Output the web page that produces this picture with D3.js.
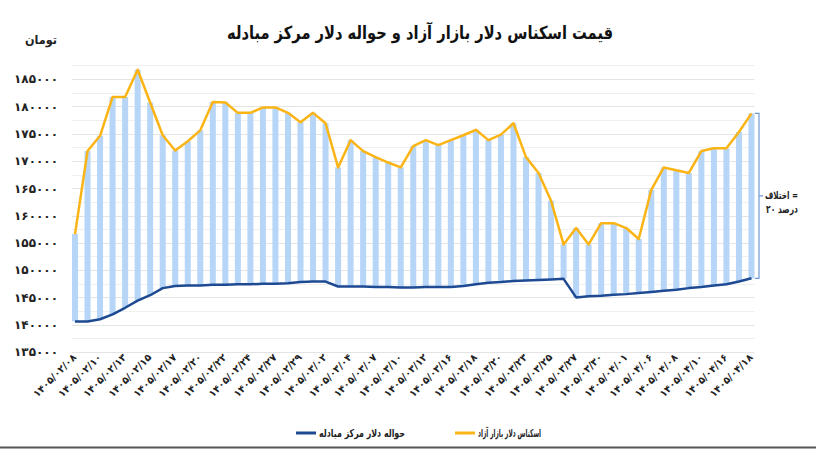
<!DOCTYPE html>
<meta charset="utf-8">
<style>
body { margin: 0; background: #fff; }
text { font-family: "DejaVu Sans", sans-serif; }
.grid line { stroke: #e4e4e4; stroke-width: 1px; }
.grid line.minor { stroke: #f0f0f0; }
.line { fill: none; stroke-linejoin: round; }
</style>
<svg width="816" height="450"></svg>
<script src="https://cdn.jsdelivr.net/npm/d3@7"></script>
<script>

// date labels shown under every second bar
var dateLabels = ["۱۴۰۵/۰۲/۰۸", "۱۴۰۵/۰۲/۱۰", "۱۴۰۵/۰۲/۱۳", "۱۴۰۵/۰۲/۱۵", "۱۴۰۵/۰۲/۱۷",
  "۱۴۰۵/۰۲/۲۰", "۱۴۰۵/۰۲/۲۲", "۱۴۰۵/۰۲/۲۴", "۱۴۰۵/۰۲/۲۷", "۱۴۰۵/۰۲/۲۹",
  "۱۴۰۵/۰۳/۰۲", "۱۴۰۵/۰۳/۰۴", "۱۴۰۵/۰۳/۰۷", "۱۴۰۵/۰۳/۱۰", "۱۴۰۵/۰۳/۱۲",
  "۱۴۰۵/۰۳/۱۶", "۱۴۰۵/۰۳/۱۸", "۱۴۰۵/۰۳/۲۰", "۱۴۰۵/۰۳/۲۳", "۱۴۰۵/۰۳/۲۵",
  "۱۴۰۵/۰۳/۲۷", "۱۴۰۵/۰۳/۳۰", "۱۴۰۵/۰۴/۰۱", "۱۴۰۵/۰۴/۰۶", "۱۴۰۵/۰۴/۰۸",
  "۱۴۰۵/۰۴/۱۰", "۱۴۰۵/۰۴/۱۶", "۱۴۰۵/۰۴/۱۸"];

// free market cash dollar (toman)
var freeMarket = [156600, 171800, 174600, 181700, 181700, 186700, 180700, 174700, 171900, 173600,
  175600, 180800, 180700, 178800, 178800, 179800, 179800, 178800, 177100, 178800,
  176900, 168800, 173800, 171800, 170700, 169700, 168800, 172700, 173800, 172900,
  173800, 174700, 175700, 173800, 174800, 176900, 170700, 167800, 162700, 154700,
  157700, 154700, 158600, 158600, 157700, 155700, 164700, 168800, 168300, 167800,
  171800, 172300, 172300, 175300, 178700];

// exchange center transfer dollar (toman)
var exchangeCenter = [140600, 140600, 141000, 141900, 143100, 144400, 145400, 146700, 147100, 147200,
  147200, 147300, 147300, 147400, 147400, 147500, 147500, 147600, 147800, 147900,
  147900, 147000, 147000, 147000, 146900, 146900, 146800, 146800, 146900, 146900,
  146900, 147100, 147400, 147700, 147800, 148000, 148100, 148200, 148300, 148400,
  145000, 145200, 145300, 145500, 145600, 145800, 146000, 146200, 146400, 146700,
  146900, 147200, 147400, 147900, 148500];

var yTicks = [135000, 140000, 145000, 150000, 155000, 160000, 165000, 170000, 175000, 180000, 185000];

var title = "قیمت اسکناس دلار بازار آزاد و حواله دلار مرکز مبادله",
    unitLabel = "تومان",
    legendFree = "اسکناس دلار بازار آزاد",
    legendCenter = "حواله دلار مرکز مبادله",
    gapLine1 = "\u200Eاختلاف =",
    gapLine2 = "\u200E۲۰ درصد";

var orange = "#fbb416", navy = "#1d4a92", barBlue = "#b6d5f7";

var svg = d3.select("svg");

var toFa = function(s) { return String(s).replace(/\d/g, function(c) { return "۰۱۲۳۴۵۶۷۸۹"[+c]; }); };

var data = freeMarket.map(function(v, i) {
  return {i: i, free: v, center: exchangeCenter[i], label: i % 2 === 0 ? dateLabels[i / 2] : null};
});

var xScale = d3.scaleBand().domain(data.map(function(d) { return d.i; })).range([72, 754.5]).paddingInner(0.52),
    yScale = d3.scaleLinear().domain([135000, 185000]).range([352, 79]);

var cx = function(d) { return xScale(d.i) + xScale.bandwidth() / 2; };

// grid lines, every 2500
var grid = svg.append("g").attr("class", "grid");
grid.selectAll("line")
  .data(d3.range(135000, 187501, 2500))
  .enter().append("line")
    .attr("class", function(d) { return d % 5000 ? "minor" : "major"; })
    .attr("x1", 72).attr("x2", 754.5)
    .attr("y1", function(d) { return Math.round(yScale(d)) + 0.5; })
    .attr("y2", function(d) { return Math.round(yScale(d)) + 0.5; });

// y axis labels
svg.append("g")
    .attr("transform", "translate(58,0)")
    .call(d3.axisLeft(yScale).tickValues(yTicks).tickSize(0).tickPadding(0).tickFormat(toFa))
    .call(function(g) { g.select(".domain").remove(); })
    .selectAll("text")
    .attr("font-family", "DejaVu Sans")
    .attr("font-weight", "bold")
    .attr("font-size", 12)
    .attr("fill", "#222");

svg.append("text")
    .attr("x", 57).attr("y", 44)
    .attr("text-anchor", "end")
    .attr("font-weight", "bold").attr("font-size", 12).attr("fill", "#222")
    .attr("textLength", 32).attr("lengthAdjust", "spacingAndGlyphs")
    .text(unitLabel);

// floating bars between the two prices
svg.append("g").selectAll("rect")
  .data(data)
  .enter().append("rect")
    .attr("x", function(d) { return xScale(d.i); })
    .attr("width", xScale.bandwidth())
    .attr("y", function(d) { return yScale(d.free); })
    .attr("height", function(d) { return yScale(d.center) - yScale(d.free); })
    .attr("fill", barBlue);

var lineFree = d3.line().x(cx).y(function(d) { return yScale(d.free); }),
    lineCenter = d3.line().x(cx).y(function(d) { return yScale(d.center); });

svg.append("path").datum(data).attr("class", "line")
    .attr("stroke", orange).attr("stroke-width", 2.5).attr("d", lineFree);
svg.append("path").datum(data).attr("class", "line")
    .attr("stroke", navy).attr("stroke-width", 2.5).attr("d", lineCenter);

// x labels, rotated
svg.append("g").selectAll("text")
  .data(data.filter(function(d) { return d.label; }))
  .enter().append("text")
    .attr("transform", function(d) { return "translate(" + (cx(d) + 2) + ",358) rotate(-45)"; })
    .attr("text-anchor", "end")
    .attr("font-weight", "bold").attr("font-size", 10).attr("fill", "#222")
    .text(function(d) { return d.label; });

// bracket showing the gap on the last day
var last = data[data.length - 1],
    bx = xScale.range()[1] + 4.5,
    bTop = yScale(last.free), bBot = yScale(last.center), bMid = (bTop + bBot) / 2;
svg.append("path")
    .attr("d", "M" + (bx - 4) + "," + bTop + "H" + bx + "V" + bBot + "H" + (bx - 4) +
               "M" + bx + "," + bMid + "H" + (bx + 4))
    .attr("fill", "none").attr("stroke", "#6e98d4").attr("stroke-width", 1.2);

svg.append("text")
    .attr("x", 798).attr("y", bMid + 3)
    .attr("text-anchor", "end")
    .attr("font-weight", "bold").attr("font-size", 11).attr("fill", "#222")
    .attr("textLength", 33).attr("lengthAdjust", "spacingAndGlyphs")
    .text(gapLine1);
svg.append("text")
    .attr("x", 798).attr("y", bMid + 17)
    .attr("text-anchor", "end")
    .attr("font-weight", "bold").attr("font-size", 11).attr("fill", "#222")
    .attr("textLength", 32).attr("lengthAdjust", "spacingAndGlyphs")
    .text(gapLine2);

// title
svg.append("text")
    .attr("x", 420).attr("y", 39)
    .attr("text-anchor", "middle")
    .attr("font-weight", "bold").attr("font-size", 18).attr("fill", "#111")
    .attr("textLength", 386).attr("lengthAdjust", "spacingAndGlyphs")
    .text(title);

// legend
var legend = [
  {name: legendCenter, color: navy, right: 405, width: 86},
  {name: legendFree, color: orange, right: 541, width: 63}
];
var li = svg.append("g").selectAll("g").data(legend).enter().append("g");
li.append("text")
    .attr("x", function(d) { return d.right; }).attr("y", 437)
    .attr("text-anchor", "end")
    .attr("font-weight", "bold").attr("font-size", 11).attr("fill", "#222")
    .attr("textLength", function(d) { return d.width; }).attr("lengthAdjust", "spacingAndGlyphs")
    .text(function(d) { return d.name; });
li.append("line")
    .attr("x1", function(d) { return d.right - d.width - 23; })
    .attr("x2", function(d) { return d.right - d.width - 3; })
    .attr("y1", 433).attr("y2", 433)
    .attr("stroke", function(d) { return d.color; }).attr("stroke-width", 3);

// bottom border
svg.append("line")
    .attr("x1", 0).attr("x2", 816).attr("y1", 447.5).attr("y2", 447.5)
    .attr("stroke", "#555").attr("stroke-width", 2);

</script>
